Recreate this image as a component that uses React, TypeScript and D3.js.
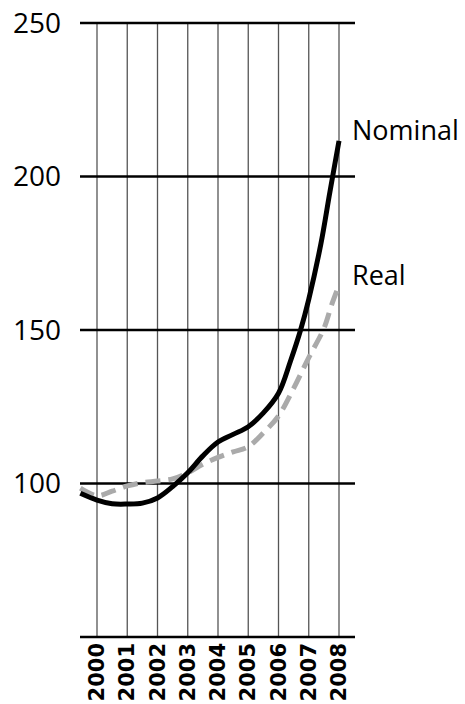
import React from "react";
import * as d3 from "d3";

const yTicks = [100, 150, 200, 250];
const years = [2000, 2001, 2002, 2003, 2004, 2005, 2006, 2007, 2008];

const nominalX = [1999.45, 2000, 2000.5, 2001, 2001.5, 2002, 2002.5, 2003, 2003.5, 2004, 2004.5, 2005, 2005.5, 2006, 2006.4, 2006.73, 2007, 2007.4, 2007.7, 2008];
const nominalY = [96.8, 94.6, 93.4, 93.3, 93.6, 95.3, 99, 103.5, 109, 113.5, 116, 118.5, 123, 129.4, 140, 150, 160, 178, 195, 211.6];

const realX = [1999.45, 2000, 2000.5, 2001, 2001.5, 2002, 2002.5, 2003, 2003.5, 2004, 2004.5, 2005, 2005.5, 2006, 2006.5, 2007, 2007.5, 2007.75, 2008];
const realY = [98.5, 96, 97.5, 99.2, 100.3, 100.8, 101.5, 103.5, 106.3, 108.5, 110.3, 112, 116.5, 122, 131, 141, 150.5, 158, 164.6];

const seriesLabels = ["Nominal", "Real"];

export default function App() {
  const W = 465, H = 704;
  const x = d3.scaleLinear().domain([2000, 2008]).range([97, 339]);
  const y = d3.scaleLinear().domain([50, 250]).range([637, 23]);
  const left = 80, right = 355;

  const line = d3
    .line<[number, number]>()
    .x((d) => x(d[0]))
    .y((d) => y(d[1]))
    .curve(d3.curveCatmullRom.alpha(0.5));

  const nominal = nominalX.map((v, i) => [v, nominalY[i]] as [number, number]);
  const real = realX.map((v, i) => [v, realY[i]] as [number, number]);

  return (
    <svg
      width={W}
      height={H}
      style={{ position: "absolute", left: 0, top: 0, display: "block", background: "#fff" }}
    >
      {years.map((yr) => (
        <line key={yr} x1={x(yr)} x2={x(yr)} y1={y(250)} y2={y(50)} stroke="#555" strokeWidth={1.3} />
      ))}
      {yTicks.map((t) => (
        <g key={t}>
          <line x1={left} x2={right} y1={y(t)} y2={y(t)} stroke="#000" strokeWidth={2.5} />
          <text
            x={61}
            y={y(t)}
            dy="0.35em"
            textAnchor="end"
            fontFamily="'Open Sans', sans-serif"
            fontSize={28}
            fill="#000"
          >
            {t}
          </text>
        </g>
      ))}
      <line x1={left} x2={right} y1={y(50)} y2={y(50)} stroke="#000" strokeWidth={2.5} />
      {years.map((yr) => (
        <text
          key={"l" + yr}
          transform={`translate(${x(yr) + 7},643) rotate(-90)`}
          textAnchor="end"
          fontFamily="'DejaVu Sans', sans-serif"
          fontWeight="bold"
          fontSize={21}
          fill="#000"
        >
          {yr}
        </text>
      ))}
      <path d={line(real) || ""} fill="none" stroke="#aaa" strokeWidth={5} strokeDasharray="15 8" />
      <path d={line(nominal) || ""} fill="none" stroke="#000" strokeWidth={5} />
      <text x={352} y={140} fontFamily="'Open Sans', sans-serif" fontSize={27} fill="#000">
        {seriesLabels[0]}
      </text>
      <text x={352} y={285} fontFamily="'Open Sans', sans-serif" fontSize={27} fill="#000">
        {seriesLabels[1]}
      </text>
    </svg>
  );
}
